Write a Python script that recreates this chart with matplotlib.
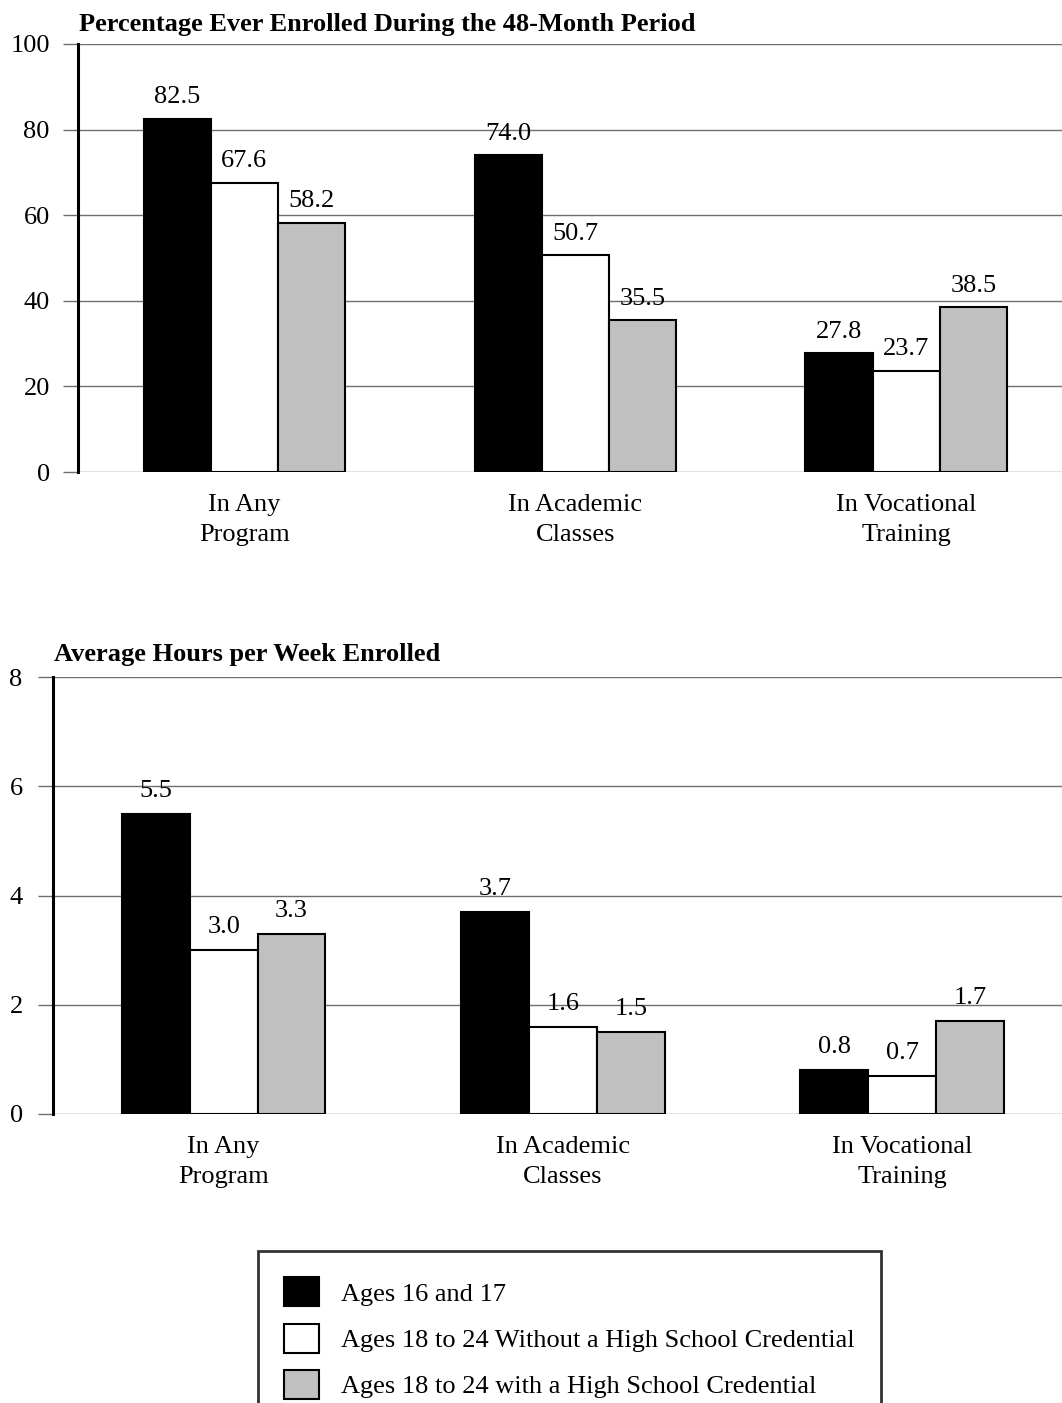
import matplotlib.pyplot as plt
import numpy as np
from matplotlib.patches import Patch

''' Data '''
categories = ["In Any\nProgram", "In Academic\nClasses", "In Vocational\nTraining"]
series_labels = ["Ages 16 and 17",
                 "Ages 18 to 24 Without a High School Credential",
                 "Ages 18 to 24 with a High School Credential"]

# percentage ever enrolled
pct_16_17 = [82.5, 74.0, 27.8]
pct_no_cred = [67.6, 50.7, 23.7]
pct_cred = [58.2, 35.5, 38.5]

# average hours per week
hrs_16_17 = [5.5, 3.7, 0.8]
hrs_no_cred = [3.0, 1.6, 0.7]
hrs_cred = [3.3, 1.5, 1.7]

top_title = "Percentage Ever Enrolled During the 48-Month Period"
bot_title = "Average Hours per Week Enrolled"

''' Settings '''
bar_colors = ['black', 'white', '#c0c0c0']
grid_color = '#6e6e6e'
font_size = 19
dpi = 100

plt.rcParams['font.family'] = ['Liberation Serif', 'DejaVu Serif']
plt.rcParams['font.size'] = font_size

fig = plt.figure(figsize=(10.62, 14.03), dpi=dpi)


def draw_panel(ax, data, ymax, ystep, width, tick_pad, lbl_pad):
    x_loc = np.arange(len(categories))
    for i, (vals, col) in enumerate(zip(data, bar_colors)):
        rects = ax.bar(x_loc + (i - 1) * width, vals, width, color=col,
                       edgecolor='black', linewidth=1.5, zorder=3)
        ax.bar_label(rects, labels=[f"{v:.1f}" for v in vals], padding=lbl_pad,
                     fontsize=font_size)
    ax.set_xlim(-0.503, 2.471)
    ax.set_ylim(0, ymax)
    ax.set_yticks(np.arange(0, ymax + ystep, ystep))
    ax.set_xticks(x_loc)
    ax.set_xticklabels(categories, linespacing=1.45)
    ax.tick_params(axis='x', length=0, pad=16)
    ax.tick_params(axis='y', length=10.8, width=1, color=grid_color,
                   pad=tick_pad)
    ax.yaxis.grid(True, color=grid_color, linewidth=1, zorder=0)
    ax.set_axisbelow(True)
    for s in ['top', 'right', 'bottom']:
        ax.spines[s].set_visible(False)
    ax.spines['left'].set_linewidth(2.2)
    ax.spines['left'].set_zorder(4)


# top panel
ax1 = fig.add_axes([78 / 1062, 1 - 472 / 1403, (1062 - 78) / 1062, 428 / 1403])
draw_panel(ax1, [pct_16_17, pct_no_cred, pct_cred], 100, 20, 0.203, 9.5, 7.5)
fig.text(79 / 1062, 1 - 24 / 1403, top_title, fontweight='bold',
         fontsize=font_size, va='center', ha='left')

# bottom panel
ax2 = fig.add_axes([53 / 1062, 1 - 1114 / 1403, (1062 - 53) / 1062, 437 / 1403])
draw_panel(ax2, [hrs_16_17, hrs_no_cred, hrs_cred], 8, 2, 0.2, 11, 8.5)
fig.text(54 / 1062, 1 - 655 / 1403, bot_title, fontweight='bold',
         fontsize=font_size, va='center', ha='left')

# legend
handles = [Patch(facecolor=c, edgecolor='black', linewidth=1.5) for c in bar_colors]
leg = fig.legend(handles, series_labels, loc='upper left',
                 bbox_to_anchor=(258 / 1062, 1 - 1251 / 1403),
                 borderaxespad=0, frameon=True, fancybox=False,
                 handlelength=1.33, handleheight=1.31, handletextpad=0.8,
                 labelspacing=0.66, borderpad=1.0, fontsize=font_size)
leg.get_frame().set_edgecolor('black')
leg.get_frame().set_linewidth(2)

plt.savefig("out.png", dpi=dpi)
